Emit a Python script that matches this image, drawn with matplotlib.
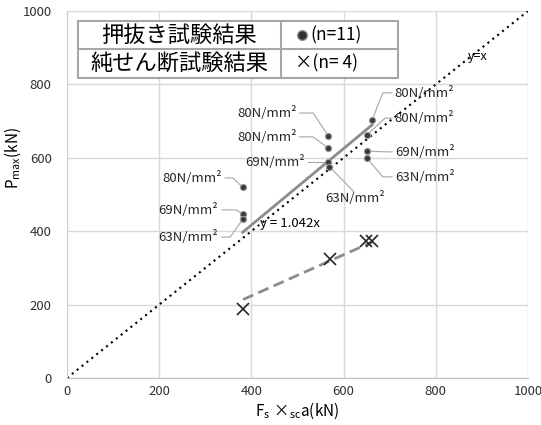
import numpy as np
import matplotlib
matplotlib.use("Agg")
from matplotlib import pyplot as plt
from matplotlib.patches import Rectangle

plt.rcParams['font.family'] = ['Noto Sans CJK JP', 'DejaVu Sans']
plt.rcParams['mathtext.fontset'] = 'custom'
plt.rcParams['mathtext.rm'] = 'Noto Sans CJK JP'

# push-out test results (n=11): Fs x sca (kN), Pmax (kN)
push_x = [381, 381, 381, 567, 567, 567, 569, 650, 650, 650, 662]
push_y = [520, 447, 432, 659, 626, 589, 576, 662, 618, 600, 703]
push_lbl = ['80N/mm²', '69N/mm²', '63N/mm²',
            '80N/mm²', '80N/mm²', '69N/mm²', '63N/mm²',
            '80N/mm²', '69N/mm²', '63N/mm²', '80N/mm²']
push_slope = 1.042  # from trend label

# pure shear test results (n=4)
shear_x = [382, 570, 648, 662]
shear_y = [188, 324, 372, 372]

ticks = [0, 200, 400, 600, 800, 1000]

# label placement: text position, alignment, leader start, leader elbow (data coords)
lbl_pos = [(336, 545, 'right', (343, 545), (360, 545)),
           (328, 458, 'right', (336, 458), (367, 458)),
           (328, 384, 'right', (336, 384), (354, 384)),
           (499, 722, 'right', (505, 722), (534, 722)),
           (499, 657, 'right', (505, 657), (534, 657)),
           (516, 589, 'right', (523, 589), (553, 589)),
           (625, 490, 'center', (622, 508), (622, 508)),
           (711, 708, 'left', (705, 708), (690, 708)),
           (711, 616, 'left', (705, 616), (700, 616)),
           (711, 548, 'left', (705, 548), (685, 548)),
           (711, 777, 'left', (705, 777), (685, 777))]

fig = plt.figure(figsize=(5.41, 4.25), dpi=100)
ax = fig.add_axes([67/541, 47/425, 461/541, 367/425])

ax.set_xlim(0, 1000)
ax.set_ylim(0, 1000)
ax.set_xticks(ticks)
ax.set_yticks(ticks)
ax.grid(True, color='#d9d9d9', lw=1)
ax.set_axisbelow(True)
for s in ['top', 'right']:
    ax.spines[s].set_visible(False)
ax.spines['left'].set_color('#d0d0d0')
ax.spines['bottom'].set_color('#bfbfbf')
ax.tick_params(length=0, labelsize=9.5, colors='#303030')
ax.tick_params(axis='y', pad=11)
ax.tick_params(axis='x', pad=5)

# y = x reference
ax.plot([0, 1000], [0, 1000], ls=(0, (1, 2)), color='black', lw=1.5)
ax.text(891, 877, 'y=x', fontsize=9, ha='center', va='center')

# trend lines through origin
px = np.array([min(push_x), max(push_x)])
ax.plot(px, push_slope * px, color='#8c8c8c', lw=2)
sx = np.array(shear_x, float)
sy = np.array(shear_y, float)
k_shear = (sx * sy).sum() / (sx * sx).sum()
sxl = np.array([sx.min(), sx.max()])
ax.plot(sxl, k_shear * sxl, color='#8c8c8c', lw=2, ls=(0, (4, 2)))
ax.text(484, 422, 'y = 1.042x', fontsize=9.5, ha='center', va='center')

# leaders and labels
for (x, y), lab, (tx, ty, ha, st, el) in zip(zip(push_x, push_y), push_lbl, lbl_pos):
    ax.plot([st[0], el[0], x], [st[1], el[1], y], color='#a6a6a6', lw=0.8)
    ax.text(tx, ty, lab, fontsize=9.5, ha=ha, va='center', color='#262626')

ax.plot(push_x, push_y, 'o', ms=4.5, mfc='#3a3a3a', mec='#a0a0a0', mew=0.8, zorder=5)
ax.plot(shear_x, shear_y, 'x', ms=8, mew=1.2, color='#262626', zorder=5)

# legend table
tx0, tx1, tx2 = 0.024, 0.464, 0.718
ty0, ty1, ty2 = 0.817, 0.896, 0.973
ax.add_patch(Rectangle((tx0, ty0), tx2 - tx0, ty2 - ty0, transform=ax.transAxes,
                       fc='white', ec='#a6a6a6', lw=1.5, zorder=6))
ax.plot([tx0, tx2], [ty1, ty1], transform=ax.transAxes, color='#a6a6a6', lw=1.5, zorder=7)
ax.plot([tx1, tx1], [ty0, ty2], transform=ax.transAxes, color='#a6a6a6', lw=1.5, zorder=7)
ax.text((tx0 + tx1) / 2, (ty1 + ty2) / 2, '押抜き試験結果', fontsize=16,
        ha='center', va='center', transform=ax.transAxes, zorder=8)
ax.text((tx0 + tx1) / 2, (ty0 + ty1) / 2, '純せん断試験結果', fontsize=16,
        ha='center', va='center', transform=ax.transAxes, zorder=8)
ax.plot([0.51], [(ty1 + ty2) / 2], 'o', ms=7, mfc='#303030', mec='#909090',
        transform=ax.transAxes, zorder=8)
ax.text(0.527, (ty1 + ty2) / 2, '(n=11)', fontsize=12.5, ha='left', va='center',
        transform=ax.transAxes, zorder=8)
ax.text(0.495, (ty0 + ty1) / 2, '×(n= 4)', fontsize=12.5, ha='left', va='center',
        transform=ax.transAxes, zorder=8)

ax.set_xlabel(r'$\mathregular{F_s\ ×_{sc}a(kN)}$', fontsize=11, labelpad=2)
ax.set_ylabel(r'$\mathregular{P_{max}(kN)}$', fontsize=11)
ax.yaxis.set_label_coords(-0.095, 0.6)

fig.savefig('out.png', dpi=100)
